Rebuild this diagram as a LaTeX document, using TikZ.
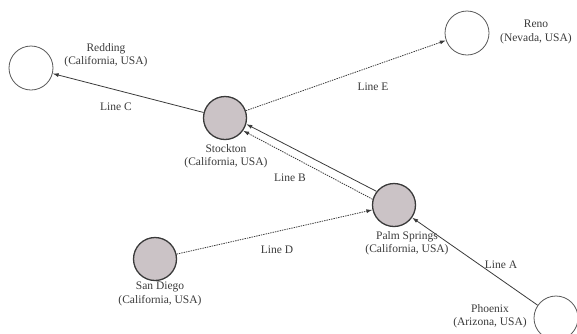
\documentclass[tikz,border=0pt]{standalone}
\usepackage{fontspec}
\setmainfont{Liberation Serif}
\usetikzlibrary{arrows.meta}
\definecolor{ink}{HTML}{3A3A3A}
\definecolor{cityfill}{HTML}{CBC3C6}
\begin{document}
\begin{tikzpicture}[x=1pt,y=-1pt,
  city/.style={circle, draw=ink!85, line width=0.8pt, minimum size=44pt, inner sep=0pt, fill=white},
  hub/.style={circle, draw=ink, line width=1.3pt, minimum size=43pt, inner sep=0pt, fill=cityfill},
  lbl/.style={font=\fontsize{11.5}{13.5}\selectfont, text=ink, align=center, inner sep=0pt},
  link/.style={draw=ink, line width=0.8pt, -{Latex[length=6pt,width=4pt]}},
  dotlink/.style={link, dash pattern=on 1.4pt off 1pt}]
\useasboundingbox (0,0) rectangle (577,333);
\clip (0,0) rectangle (577,333);
% nodes
\node[city] (red) at (31,68) {};
\node[hub] (sto) at (225,118) {};
\node[city] (ren) at (467,33) {};
\node[hub] (pal) at (394,205) {};
\node[hub] (sd) at (155,259) {};
\node[city] (pho) at (556,318) {};
% labels
\node[lbl] (redl) at (106,55) {Redding\\(California, USA)};
\node[lbl] (stol) at (226,156) {Stockton\\(California, USA)};
\node[lbl] (renl) at (536,32) {Reno\\(Nevada, USA)};
\node[lbl] (pall) at (407,243) {Palm Springs\\(California, USA)};
\node[lbl] (sdl) at (160,294) {San Diego\\(California, USA)};
\node[lbl] (phol) at (490,316) {Phoenix\\(Arizona, USA)};
% connectors
\draw[link] (sto) -- (red);
\draw[dotlink] (sto) -- (ren);
\draw[link] (pal.142) -- (sto.-16);
\draw[dotlink] (pal.165) -- (sto.-35);
\draw[dotlink] (sd) -- (pal);
\draw[link] (pho) -- (pal);
% line labels
\node[lbl] (lc) at (116,107) {Line C};
\node[lbl] (le) at (373,87) {Line E};
\node[lbl] (lb) at (290,178) {Line B};
\node[lbl] (ld) at (277,250) {Line D};
\node[lbl] (la) at (501,265) {Line A};
\end{tikzpicture}
\end{document}
